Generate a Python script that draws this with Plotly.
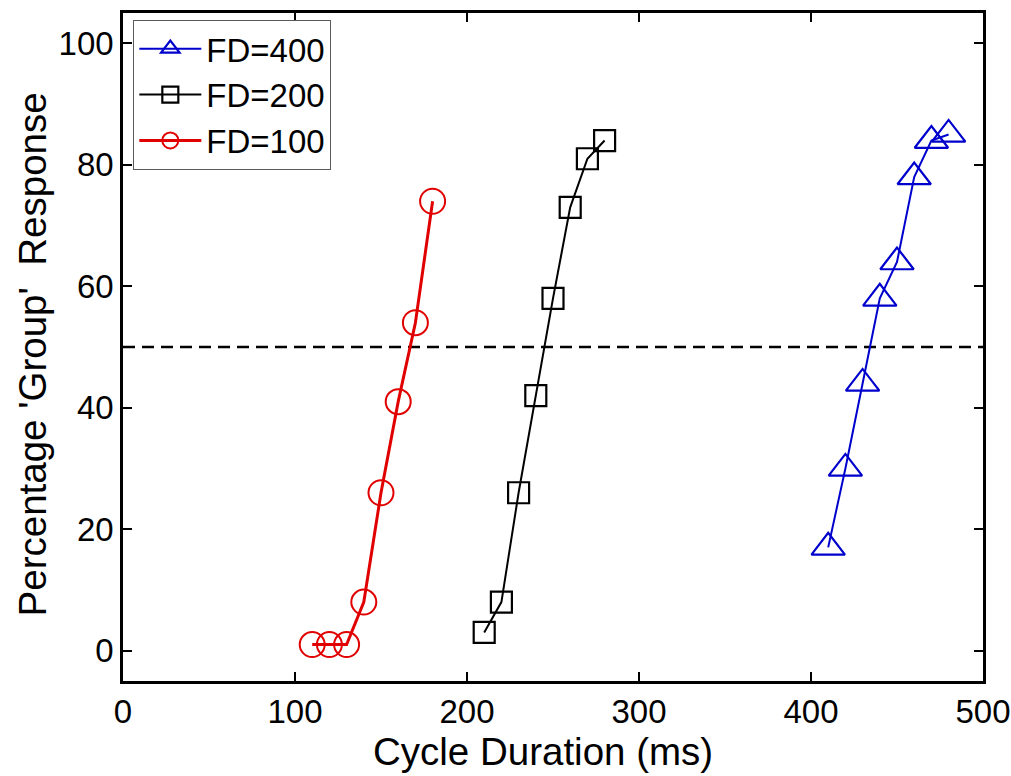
import plotly.graph_objects as go

# Cycle duration (ms) and percentage of 'Group' responses for each FD condition
fd100_x = [110, 120, 130, 140, 150, 160, 170, 180]
fd100_y = [1, 1, 1, 8, 26, 41, 54, 74]

fd200_x = [210, 220, 230, 240, 250, 260, 270, 280]
fd200_y = [3, 8, 26, 42, 58, 73, 81, 84]

fd400_x = [410, 420, 430, 440, 450, 460, 470, 480]
fd400_y = [17, 30, 44, 58, 64, 78, 84, 85]

# 50% reference level
ref_x = [0, 500]
ref_y = [50, 50]

x_ticks = [0, 100, 200, 300, 400, 500]
y_ticks = [0, 20, 40, 60, 80, 100]

x_title = "Cycle Duration (ms)"
y_title = "Percentage 'Group'  Response"

BLUE = "rgb(0,0,205)"
RED = "rgb(225,0,0)"
FONT = "Liberation Sans, Arial, Helvetica, sans-serif"

fig = go.Figure()

fig.add_trace(go.Scatter(
    x=ref_x, y=ref_y, mode="lines", showlegend=False,
    line=dict(color="black", width=2.5, dash="12px,7px"), hoverinfo="skip",
))

fig.add_trace(go.Scatter(
    x=fd400_x, y=fd400_y, mode="lines+markers", name="FD=400",
    line=dict(color=BLUE, width=2),
    marker=dict(symbol="triangle-up-open", size=29, color=BLUE,
                line=dict(color=BLUE, width=2.2)),
))
fig.add_trace(go.Scatter(
    x=fd200_x, y=fd200_y, mode="lines+markers", name="FD=200",
    line=dict(color="black", width=2),
    marker=dict(symbol="square-open", size=21, color="black",
                line=dict(color="black", width=2.2)),
))
fig.add_trace(go.Scatter(
    x=fd100_x, y=fd100_y, mode="lines+markers", name="FD=100",
    line=dict(color=RED, width=3),
    marker=dict(symbol="circle-open", size=25, color=RED,
                line=dict(color=RED, width=2)),
))

axis_common = dict(
    showline=True, linecolor="black", linewidth=2.5, mirror="ticks",
    ticks="inside", ticklen=9, tickwidth=2, tickcolor="black",
    showgrid=False, zeroline=False, automargin=False,
    tickfont=dict(family=FONT, size=33, color="black"),
)

fig.update_xaxes(
    range=[0, 500], tickvals=x_ticks, ticktext=[str(v) for v in x_ticks],
    **axis_common,
)
fig.update_yaxes(
    range=[-5, 105], tickvals=y_ticks, ticktext=[str(v) for v in y_ticks],
    **axis_common,
)

# Axis titles placed as paper-anchored annotations
title_font = dict(family=FONT, size=38.5, color="black")
fig.add_annotation(
    text=x_title, xref="paper", yref="paper", x=0.5, y=-0.106,
    xanchor="center", yanchor="middle", xshift=-10,
    showarrow=False, font=title_font,
)
fig.add_annotation(
    text=y_title, xref="paper", yref="paper", x=-0.1047, y=0.4888,
    xanchor="center", yanchor="middle", textangle=-90,
    showarrow=False, font=title_font,
)

fig.update_layout(
    width=1011, height=776,
    margin=dict(l=123, r=28, t=13, b=95),
    paper_bgcolor="white", plot_bgcolor="white",
    font=dict(family=FONT, color="black"),
    legend=dict(
        x=0.012, y=0.99, xanchor="left", yanchor="top",
        bgcolor="white", bordercolor="rgb(90,90,90)", borderwidth=1,
        font=dict(family=FONT, size=33, color="black"),
        itemwidth=62, tracegroupgap=0,
    ),
)

fig.write_html("out.html")
